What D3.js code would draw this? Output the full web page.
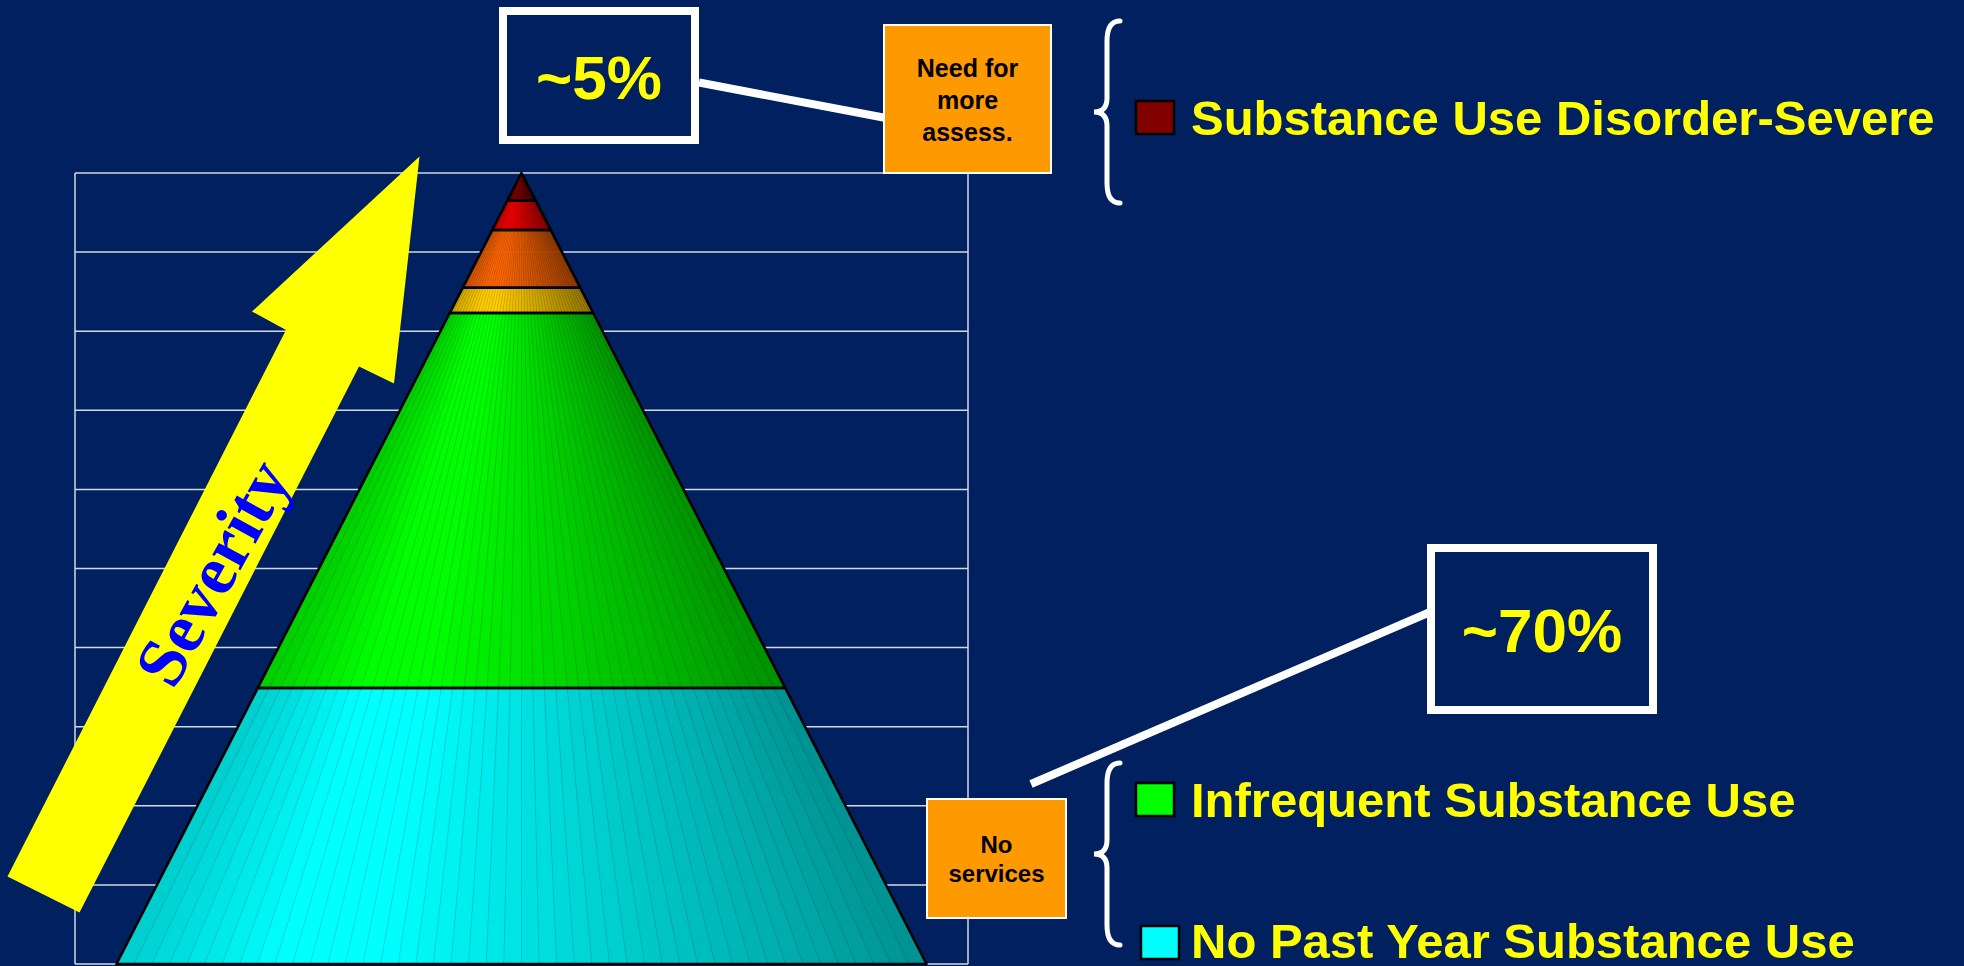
<!DOCTYPE html>
<html>
<head>
<meta charset="utf-8">
<script src="https://cdn.jsdelivr.net/npm/d3@7"></script>
<style>
  html, body { margin: 0; padding: 0; background: #002060; overflow: hidden; }
  svg { display: block; }
</style>
</head>
<body>
<div id="container"></div>
<script>
// pyramid layers, bottom -> top (share of the total height)
const categories = ['No Past Year Substance Use', 'Infrequent Substance Use', 'Level 3', 'Level 4', 'Level 5', 'Substance Use Disorder-Severe']
const shares = [34.9, 47.4, 3.2, 7.3, 3.7, 3.5]
const layerColors = ['#00ffff', '#00ff00', '#ffcc00', '#ff6600', '#ff0000', '#800000']
const gridTicks = [0, 10, 20, 30, 40, 50, 60, 70, 80, 90, 100]

// legend entries that are shown (two groups with a brace each)
const legendTop = ['Substance Use Disorder-Severe']
const legendBottom = ['Infrequent Substance Use', 'No Past Year Substance Use']

// callouts
const percentLabels = ['~5%', '~70%']
const noteLabels = [['Need for', 'more', 'assess.'], ['No', 'services']]
const arrowLabel = 'Severity'

const width = 1964
const height = 966
const marginTop = 173
const marginLeft = 75
const plotRight = 968
const plotBottom = 964

const FONT = "'Liberation Sans', Arial, Helvetica, sans-serif"

function shadeColor(base, f) {
  const c = d3.rgb(base)
  return d3.rgb(c.r * f, c.g * f, c.b * f).formatHex()
}

function bracePath(x, y0, y1, tipX, curl) {
  const ym = (y0 + y1) / 2
  const p = d3.path()
  p.moveTo(x + curl, y0)
  p.quadraticCurveTo(x, y0, x, y0 + 20)
  p.lineTo(x, ym - 14)
  p.quadraticCurveTo(x, ym, tipX, ym)
  p.quadraticCurveTo(x, ym, x, ym + 14)
  p.lineTo(x, y1 - 20)
  p.quadraticCurveTo(x, y1, x + curl, y1)
  return p.toString()
}

function drawChart() {
  const svg = d3.create('svg')
    .attr('width', width)
    .attr('height', height)

  svg.append('rect')
    .attr('width', width)
    .attr('height', height)
    .attr('fill', '#002060')

  const y = d3.scaleLinear()
    .domain([0, 100])
    .range([plotBottom, marginTop])

  const x = d3.scaleBand()
    .domain(['pyramid'])
    .range([marginLeft, plotRight])
    .paddingInner(0)
    .paddingOuter(0.0512)

  const bw = x.bandwidth()
  const cx = x('pyramid') + bw / 2
  // half width of the pyramid at a given height value
  const taper = d3.scaleLinear().domain([0, 100]).range([bw / 2, 0])

  // gridlines + frame
  const grid = svg.append('g')
  grid.selectAll('line.h')
    .data(gridTicks)
    .enter()
    .append('line')
    .attr('class', 'h')
    .attr('x1', marginLeft)
    .attr('x2', plotRight)
    .attr('y1', d => y(d))
    .attr('y2', d => y(d))
    .attr('stroke', '#d4d8e0')
    .attr('stroke-width', 1.5)
  grid.selectAll('line.v')
    .data([marginLeft, plotRight])
    .enter()
    .append('line')
    .attr('class', 'v')
    .attr('x1', d => d)
    .attr('x2', d => d)
    .attr('y1', y(100))
    .attr('y2', y(0))
    .attr('stroke', '#d4d8e0')
    .attr('stroke-width', 1.5)

  // stack the layers
  const row = {}
  categories.forEach((c, i) => { row[c] = shares[i] })
  const stacked = d3.stack().keys(categories)([row])
  const layers = stacked.map((s, i) => ({ key: s.key, v0: s[0][0], v1: s[0][1], color: layerColors[i] }))

  // facets: thin slices radiating from the apex, shaded like the 3d pyramid
  const N = 46
  const u = d3.scaleLinear().domain([0, N]).range([-1, 1])
  const shade = d3.scaleLinear().domain([0, 0.2, 0.32, 1]).range([0.8, 1, 1, 0.57])
  const pt = (uu, v) => [cx + uu * taper(v), y(v)]

  const slices = []
  layers.forEach(l => {
    for (let i = 0; i < N; i++) {
      const f = shade((i + 0.5) / N)
      slices.push({
        pts: [pt(u(i), l.v0), pt(u(i + 1), l.v0), pt(u(i + 1), l.v1), pt(u(i), l.v1)],
        fill: shadeColor(l.color, f),
        line: shadeColor(l.color, f * 0.86)
      })
    }
  })

  svg.append('g')
    .selectAll('polygon')
    .data(slices)
    .enter()
    .append('polygon')
    .attr('points', d => d.pts.join(' '))
    .attr('fill', d => d.fill)
    .attr('stroke', d => d.line)
    .attr('stroke-width', 0.6)
    .attr('stroke-linejoin', 'round')

  // black outlines of each layer
  svg.append('g')
    .selectAll('polygon')
    .data(layers)
    .enter()
    .append('polygon')
    .attr('points', d => [pt(-1, d.v0), pt(1, d.v0), pt(1, d.v1), pt(-1, d.v1)].join(' '))
    .attr('fill', 'none')
    .attr('stroke', '#000')
    .attr('stroke-width', 2.6)
    .attr('stroke-linejoin', 'round')

  // yellow severity arrow
  const arrow = [[419.5, 156.5], [394, 383.5], [359, 366.5], [79.5, 912.5], [7.5, 876.5], [286, 330], [252, 311.5]]
  svg.append('polygon')
    .attr('points', arrow.join(' '))
    .attr('fill', '#ffff00')
  svg.append('text')
    .attr('transform', 'translate(233,584) rotate(-61)')
    .attr('text-anchor', 'middle')
    .style('font-family', "'Liberation Serif', 'Times New Roman', serif")
    .style('font-weight', 'bold')
    .style('font-size', '70px')
    .attr('fill', '#0000ff')
    .text(arrowLabel)

  // connector lines
  const connectors = [[[699, 82.5], [886, 118]], [[1031, 784], [1429, 612.5]]]
  svg.append('g')
    .selectAll('line')
    .data(connectors)
    .enter()
    .append('line')
    .attr('x1', d => d[0][0])
    .attr('y1', d => d[0][1])
    .attr('x2', d => d[1][0])
    .attr('y2', d => d[1][1])
    .attr('stroke', '#fff')
    .attr('stroke-width', 8)

  // percentage boxes
  const pctBoxes = [{ x: 503, y: 11, w: 192, h: 129 }, { x: 1431, y: 548, w: 222, h: 162 }]
  const pct = svg.append('g')
  pct.selectAll('rect')
    .data(pctBoxes)
    .enter()
    .append('rect')
    .attr('x', d => d.x)
    .attr('y', d => d.y)
    .attr('width', d => d.w)
    .attr('height', d => d.h)
    .attr('fill', '#002060')
    .attr('stroke', '#fff')
    .attr('stroke-width', 8)
  pct.selectAll('text')
    .data(pctBoxes)
    .enter()
    .append('text')
    .attr('x', d => d.x + d.w / 2)
    .attr('y', d => d.y + d.h / 2 + 23)
    .attr('text-anchor', 'middle')
    .style('font-family', FONT)
    .style('font-weight', 'bold')
    .style('font-size', '62px')
    .attr('fill', '#ffff00')
    .text((d, i) => percentLabels[i])

  // orange note boxes
  const noteBoxes = [{ x: 884, y: 25, w: 167, h: 148, base: 77, lh: 32, fs: 25 }, { x: 927, y: 799, w: 139, h: 119, base: 853, lh: 29, fs: 24 }]
  const notes = svg.append('g')
  notes.selectAll('rect')
    .data(noteBoxes)
    .enter()
    .append('rect')
    .attr('x', d => d.x)
    .attr('y', d => d.y)
    .attr('width', d => d.w)
    .attr('height', d => d.h)
    .attr('fill', '#ff9900')
    .attr('stroke', '#fff')
    .attr('stroke-width', 2)
  noteBoxes.forEach((b, i) => {
    notes.append('g')
      .selectAll('text')
      .data(noteLabels[i])
      .enter()
      .append('text')
      .attr('x', b.x + b.w / 2)
      .attr('y', (d, j) => b.base + j * b.lh)
      .attr('text-anchor', 'middle')
      .style('font-family', FONT)
      .style('font-weight', 'bold')
      .style('font-size', b.fs + 'px')
      .attr('fill', '#000')
      .text(d => d)
  })

  // braces
  const braces = [{ y0: 21, y1: 203 }, { y0: 763, y1: 945 }]
  svg.append('g')
    .selectAll('path')
    .data(braces)
    .enter()
    .append('path')
    .attr('d', d => bracePath(1107, d.y0, d.y1, 1094, 13))
    .attr('fill', 'none')
    .attr('stroke', '#fff')
    .attr('stroke-width', 5)
    .attr('stroke-linecap', 'round')

  // legend
  const legendItems = [
    { label: legendTop[0], sx: 1136, sy: 101, base: 135 },
    { label: legendBottom[0], sx: 1136, sy: 783, base: 817 },
    { label: legendBottom[1], sx: 1141, sy: 926, base: 958 }
  ]
  const legend = svg.append('g')
  legend.selectAll('rect')
    .data(legendItems)
    .enter()
    .append('rect')
    .attr('x', d => d.sx)
    .attr('y', d => d.sy)
    .attr('width', 38)
    .attr('height', 33)
    .attr('fill', d => layerColors[categories.indexOf(d.label)])
    .attr('stroke', '#000')
    .attr('stroke-width', 2.5)
  legend.selectAll('text')
    .data(legendItems)
    .enter()
    .append('text')
    .attr('x', 1191)
    .attr('y', d => d.base)
    .style('font-family', FONT)
    .style('font-weight', 'bold')
    .style('font-size', '49px')
    .attr('fill', '#ffff00')
    .text(d => d.label)

  d3.select('#container').append(() => svg.node())
}

drawChart()
</script>
</body>
</html>
